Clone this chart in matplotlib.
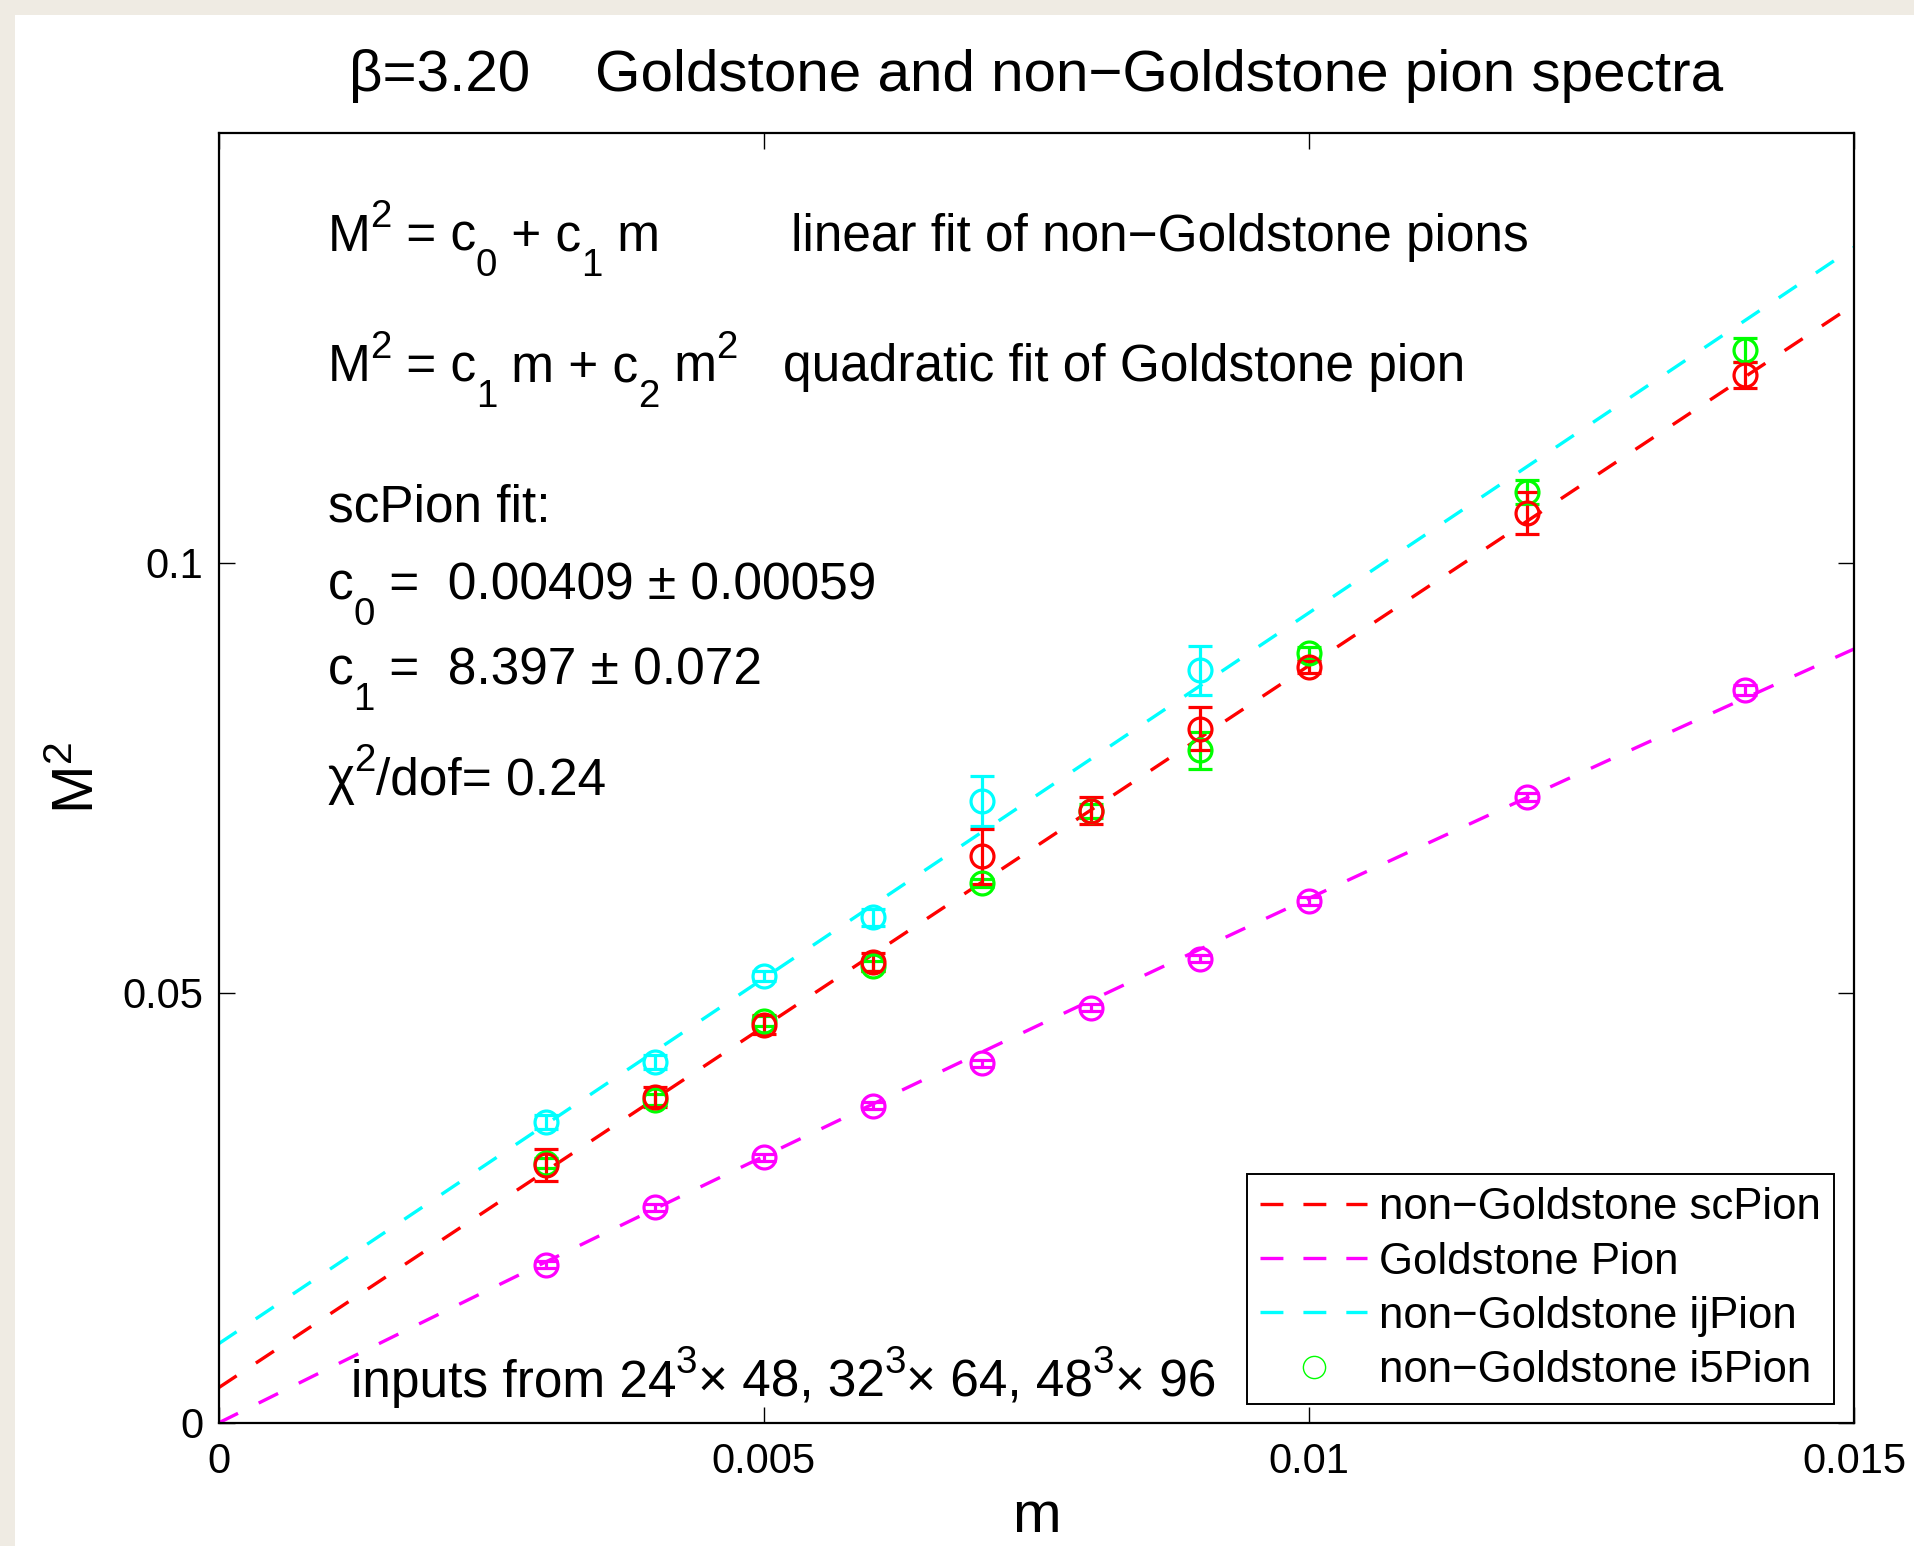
import matplotlib
matplotlib.use('Agg')
import numpy as np
import matplotlib.pyplot as plt
from matplotlib.lines import Line2D
from matplotlib.patches import Rectangle
from matplotlib.font_manager import FontProperties
from matplotlib.transforms import offset_copy

FONT = 'Liberation Sans'
plt.rcParams['font.family'] = [FONT, 'DejaVu Sans']
plt.rcParams['mathtext.fontset'] = 'custom'
plt.rcParams['mathtext.rm'] = FONT
plt.rcParams['mathtext.it'] = FONT + ':italic'

# quark masses
m_sc = [0.003, 0.004, 0.005, 0.006, 0.007, 0.008, 0.009, 0.010, 0.012, 0.014]
m_ij = [0.003, 0.004, 0.005, 0.006, 0.007, 0.009]

# M^2 for each channel
sc_val = [0.0300, 0.0379, 0.0463, 0.0536, 0.0659, 0.0712, 0.0807, 0.0879, 0.1058, 0.1219]
sc_err = [0.0019, 0.0012, 0.0011, 0.0011, 0.0032, 0.0016, 0.0025, 0.0007, 0.0024, 0.0015]
i5_val = [0.0302, 0.0376, 0.0467, 0.0531, 0.0628, 0.0712, 0.0782, 0.0895, 0.1083, 0.1248]
i5_err = [0.0006, 0.0006, 0.0006, 0.0006, 0.0005, 0.0008, 0.0022, 0.0007, 0.0014, 0.0014]
gold_val = [0.0184, 0.0251, 0.0309, 0.0369, 0.0418, 0.0483, 0.0540, 0.0607, 0.0728, 0.0852]
gold_err = [0.0004, 0.0004, 0.0004, 0.0004, 0.0004, 0.0004, 0.0004, 0.0005, 0.0005, 0.0006]
ij_val = [0.0350, 0.0420, 0.0520, 0.0588, 0.0723, 0.0875]
ij_err = [0.0008, 0.0008, 0.0006, 0.0010, 0.0029, 0.0029]

# fit parameters
sc_fit = (0.00409, 8.397)      # c0, c1
ij_fit = (0.0092, 8.50)        # c0, c1
gold_fit = (6.30, -20.0)       # c1, c2

RED, MAG, CYAN, GREEN = '#ff0000', '#ff00ff', '#00ffff', '#00ff00'

fig = plt.figure(figsize=(19.14, 15.46), dpi=100, facecolor='#efebe3')
fig.patches.append(Rectangle((15 / 1914, 0), 1, 1 - 15 / 1546, transform=fig.transFigure,
                             facecolor='white', edgecolor='none', zorder=-10))
ax = fig.add_axes([0.1142, 0.0796, 0.8545, 0.8344])

lw = 2.4
dash = (0, (15.6 / lw, 16.6 / lw))
mm = np.linspace(0, 0.015, 400)
ax.plot(mm, sc_fit[0] + sc_fit[1] * mm, color=RED, lw=lw, ls=dash)
ax.plot(mm, gold_fit[0] * mm + gold_fit[1] * mm ** 2, color=MAG, lw=lw, ls=dash)
ax.plot(mm, ij_fit[0] + ij_fit[1] * mm, color=CYAN, lw=lw, ls=dash)

eb = dict(fmt='o', mfc='none', ms=16.5, mew=2.3, elinewidth=2.3, capsize=8.5, capthick=2.3)
ax.errorbar(m_ij, ij_val, yerr=ij_err, color=CYAN, mec=CYAN, **eb)
ax.errorbar(m_sc, i5_val, yerr=i5_err, color=GREEN, mec=GREEN, **eb)
ax.errorbar(m_sc, sc_val, yerr=sc_err, color=RED, mec=RED, **eb)
ax.errorbar(m_sc, gold_val, yerr=gold_err, color=MAG, mec=MAG, **eb)

ax.set_xlim(0, 0.015)
ax.set_ylim(0, 0.15)
ax.set_xticks([0, 0.005, 0.01, 0.015])
ax.set_xticklabels(['0', '0.005', '0.01', '0.015'])
ax.set_yticks([0, 0.05, 0.1])
ax.set_yticklabels(['0', '0.05', '0.1'])
ax.tick_params(direction='in', length=11.5, width=1.0, labelsize=30, pad=11,
               top=True, right=True)
ax.tick_params(axis='x', pad=14)
for sp in ax.spines.values():
    sp.set_linewidth(1.6)

ax.set_xlabel('m', fontsize=42)
ax.xaxis.set_label_coords(0.5, -0.052)
ax.set_ylabel(r'M$^\mathregular{2}$', fontsize=42)
ax.yaxis.set_label_coords(-0.069, 0.5)
ax.set_title('\u03b2=3.20    Goldstone and non\u2212Goldstone pion spectra', fontsize=42, pad=30)


def rich_text(ax, x, y, s, size):
    # MATLAB-like markup: ^c raises and _c lowers one character
    renderer = ax.figure.canvas.get_renderer()
    runs, buf, i = [], '', 0
    while i < len(s):
        if s[i] in '^_':
            if buf:
                runs.append((buf, 0))
                buf = ''
            runs.append((s[i + 1], 1 if s[i] == '^' else -1))
            i += 2
        else:
            buf += s[i]
            i += 1
    if buf:
        runs.append((buf, 0))
    dx = 0.0
    for txt, level in runs:
        fs = size if level == 0 else size * 0.75
        dy = {0: 0.0, 1: 0.46 * size, -1: -0.50 * size}[level]
        tr = offset_copy(ax.transData, fig=ax.figure, x=dx, y=dy, units='points')
        ax.text(x, y, txt, fontsize=fs, transform=tr, ha='left', va='baseline')
        prop = FontProperties(family=FONT, size=fs)
        w0 = renderer.get_text_width_height_descent('||', prop, ismath=False)[0]
        w1 = renderer.get_text_width_height_descent('|' + txt + '|', prop, ismath=False)[0]
        dx += (w1 - w0) * 72.0 / ax.figure.dpi


fs_note = 37
rich_text(ax, 0.0010, 0.1363, 'M^2 = c_0 + c_1 m', fs_note)
rich_text(ax, 0.00525, 0.1363, 'linear fit of non\u2212Goldstone pions', fs_note)
rich_text(ax, 0.0010, 0.1211, 'M^2 = c_1 m + c_2 m^2', fs_note)
rich_text(ax, 0.00518, 0.1211, 'quadratic fit of Goldstone pion', fs_note)
rich_text(ax, 0.0010, 0.1048, 'scPion fit:', fs_note)
rich_text(ax, 0.0010, 0.0958, 'c_0 =  %.5f \u00b1 0.00059' % sc_fit[0], fs_note)
rich_text(ax, 0.0010, 0.0859, 'c_1 =  %.3f \u00b1 0.072' % sc_fit[1], fs_note)
rich_text(ax, 0.0010, 0.0731, '\u03c7^2/dof= 0.24', fs_note)
rich_text(ax, 0.00121, 0.00306, 'inputs from 24^3\u00d7 48, 32^3\u00d7 64, 48^3\u00d7 96', fs_note)

leg_dash = (0, (16.5 / lw, 14.4 / lw))
handles = [
    Line2D([], [], color=RED, lw=lw, ls=leg_dash),
    Line2D([], [], color=MAG, lw=lw, ls=leg_dash),
    Line2D([], [], color=CYAN, lw=lw, ls=leg_dash),
    Line2D([], [], color=GREEN, ls='none', marker='o', mfc='none', ms=16, mew=1.0),
]
labels = ['non\u2212Goldstone scPion', 'Goldstone Pion', 'non\u2212Goldstone ijPion',
          'non\u2212Goldstone i5Pion']
leg = ax.legend(handles, labels, loc='lower right', bbox_to_anchor=(0.988, 0.0147),
                borderaxespad=0, fontsize=31.5, handlelength=2.45, handletextpad=0.28,
                borderpad=0.3, labelspacing=0.3, fancybox=False, framealpha=1)
leg.get_frame().set_edgecolor('black')
leg.get_frame().set_linewidth(1.4)

fig.savefig('out.png', dpi=100, facecolor=fig.get_facecolor())
